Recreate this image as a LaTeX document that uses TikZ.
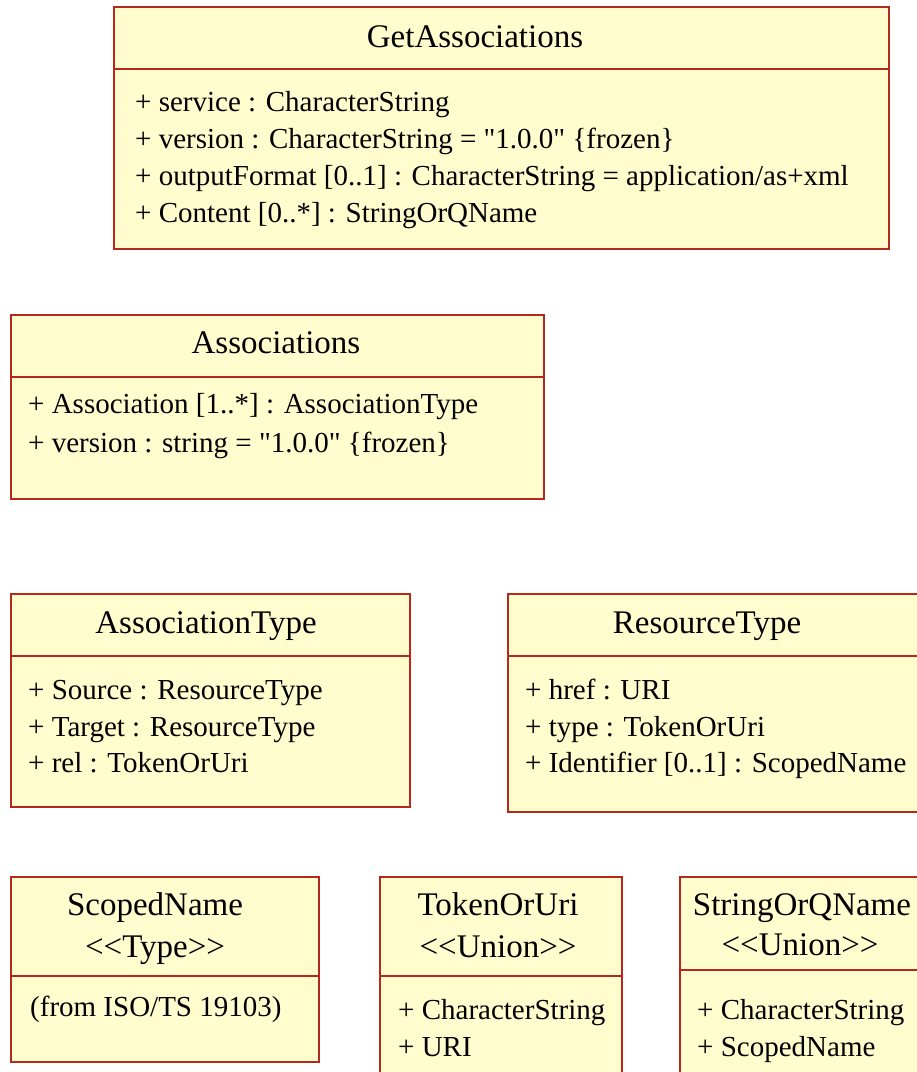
\documentclass[tikz,border=0pt]{standalone}
\usepackage{fontspec}
\setmainfont{Liberation Serif}
\definecolor{umlfill}{RGB}{255,252,206}
\definecolor{umlline}{RGB}{180,40,30}

\begin{document}
\begin{tikzpicture}[x=1pt, y=-1pt,
    classbox/.style={draw=umlline, fill=umlfill, line width=1.4pt},
    divider/.style={draw=umlline, line width=1.2pt},
    classname/.style={anchor=base, inner sep=0pt, font=\fontsize{33}{40}\selectfont},
    attrline/.style={anchor=base west, inner sep=0pt, font=\fontsize{29}{35}\selectfont}]

      \useasboundingbox (0,0) rectangle (917,1072);
      \clip (0,0) rectangle (917,1072);

      % boxes: left/top/right/bottom/divider
      \foreach \l/\t/\r/\b/\d in {114/7/889/249/69, 11/315/544/499/377,
                                 11/594/410/807/656, 508/594/935/812/656,
                                 11/877/319/1062/976, 380/877/622/1090/976,
                                 680/877/935/1090/970}{
         \draw[classbox] (\l,\t) rectangle (\r,\b);
         \draw[divider] (\l,\d) -- (\r,\d);
      }

	\node[classname] (getassoc) at (475,47) {GetAssociations};
	\node[attrline] (getassoc-a) at (135,111) {+ service : CharacterString};
	\node[attrline] (getassoc-b) at (135,148) {+ version : CharacterString  = \textquotedbl1.0.0\textquotedbl\ \{frozen\}};
	\node[attrline] (getassoc-c) at (135,185) {+ outputFormat [0..1] : CharacterString = application/as+xml};
	\node[attrline] (getassoc-d) at (135,222) {+ Content [0..*] : StringOrQName};

	\node[classname] (assoc) at (276,353) {Associations};
	\node[attrline] (assoc-a) at (28,413) {+ Association [1..*] : AssociationType};
	\node[attrline] (assoc-b) at (28,452) {+ version : string = \textquotedbl1.0.0\textquotedbl\ \{frozen\}};

	\node[classname] (assoctype) at (206,633) {AssociationType};
	\node[attrline] (assoctype-a) at (28,699) {+ Source : ResourceType};
	\node[attrline] (assoctype-b) at (28,736) {+ Target : ResourceType};
	\node[attrline] (assoctype-c) at (28,772) {+ rel : TokenOrUri};

	\node[classname] (restype) at (707,633) {ResourceType};
	\node[attrline] (restype-a) at (525,699) {+ href : URI};
	\node[attrline] (restype-b) at (525,736) {+ type : TokenOrUri};
	\node[attrline] (restype-c) at (525,772) {+ Identifier [0..1] : ScopedName};

	\node[classname] (scoped) at (155,915) {ScopedName};
	\node[classname] (scoped-st) at (155,957) {{<}{<}Type{>}{>}};
	\node[attrline] (scoped-a) at (30,1016) {(from ISO/TS 19103)};

	\node[classname] (token) at (498,915) {TokenOrUri};
	\node[classname] (token-st) at (498,957) {{<}{<}Union{>}{>}};
	\node[attrline] (token-a) at (398,1019) {+ CharacterString};
	\node[attrline] (token-b) at (398,1056) {+ URI};

	\node[classname] (strq) at (802,915) {StringOrQName};
	\node[classname] (strq-st) at (800,955) {{<}{<}Union{>}{>}};
	\node[attrline] (strq-a) at (697,1019) {+ CharacterString};
	\node[attrline] (strq-b) at (697,1056) {+ ScopedName};
\end{tikzpicture}
\end{document}
